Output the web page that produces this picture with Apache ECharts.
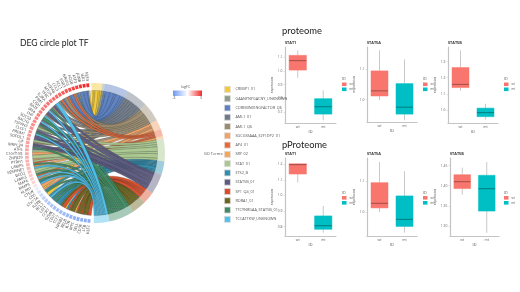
<!DOCTYPE html>
<html><head><meta charset="utf-8"><style>html,body{margin:0;padding:0;background:#fff}#c{width:520px;height:292px}</style>
<script src="https://cdn.jsdelivr.net/npm/echarts@6/dist/echarts.min.js"></script></head><body><div id="c"></div>
<script>
const termNames=['CREBP1_01','GAANYNYGACNY_UNKNOWN','COREBINDINGFACTOR_Q6','AML1_01','AML1_Q6','SGCGSSAAA_E2F1DP2_01','AP4_01','SRY_02','STAT_01','ETS2_B','STAT5B_01','SP1_Q4_01','RORA1_01','TTCYNRGAA_STAT5B_01','TCCATTKW_UNKNOWN'];
const termColors=['#f3c93a','#8d9c8c','#5b7fc0','#6f7a88','#9a8a6e','#f0a266','#e9683a','#f4a65c','#a9c78e','#2f8db0','#5d5a80','#d94d2a','#6b6520','#3f8a63','#4fc0ea'];
const termSpans=[9,2,20,18,16,8,6,2,19,11,17,10,12,21,13];
const geneNames=['KLF2','LTB','CD3E','SELL','MYC','IL7R','RELB','NFKB2','TCF7','CD27','GZMK','CCR7','LEF1','BCL2','IL2RB','STK17A','CD5','CTSW','KLRB1','MMP9','MAFK','LAMA3','BCO2','SERPINE1','LAMP5','PTRH1','ZNF829','C1orf158','ATF5','MRPL34','LIF','SOFOL1','PRDM1','CLCF1','TSPAN3','BACH2','SOCS3','TNF','IRF4','BATF','CISH','PIM1','IL2RA','TFRC','MT2A','HSPA8','CCL3','XCL1','EGR3','NR4A3','FOSB','ATF3','JUNB','IER2','KLF4'];
const logFC=[-2.4,-2.4,-2.3,-2.3,-2.2,-2.2,-2.1,-2,-2,-1.9,-1.8,-1.7,-1.6,-1.5,-1.3,-1.1,-0.8,-0.5,0.4,0.6,0.7,0.8,0.9,1,1.05,1.1,1.15,1.2,1.25,1.3,1.35,1.4,1.45,1.5,1.55,1.6,1.65,1.7,1.75,1.8,1.85,1.9,1.95,2,2.05,2.1,2.2,2.3,2.4,2.5,2.6,2.7,2.85,3,3];
const geneTerms=[[11],[12],[11,12],[12],[11,0],[12],[11,12],[9,0],[11],[9,12],[9],[9,13],[9,13],[9,14],[0],[9,13],[0,5],[5],[9,14],[13,5],[6,14],[13,8],[8],[7,14],[6,13],[5,8],[8],[5],[8,3],[13,10],[10,4],[3,8],[10],[13,14],[3,10],[8,4],[10,13],[14,3],[13],[14,4],[10],[14,3],[4,13],[10,3],[14],[3,4],[2,6],[4],[2,6],[2],[4,6],[2,1],[2],[2],[2,0]];
const stat1={wt:[0.951,1.007,1.076,1.115,1.151],mt:[0.639,0.685,0.739,0.798,0.859],ticks:[0.7,0.8,0.9,1.0,1.1],min:0.62,max:1.176};
const stat5a={wt:[0.998,1.012,1.029,1.095,1.163],mt:[0.932,0.952,0.975,1.053,1.133],ticks:[1.0,1.1],min:0.926,max:1.174};
const stat5b={wt:[1.12,1.139,1.159,1.263,1.369],mt:[0.941,0.959,0.984,1.012,1.039],ticks:[1.0,1.1,1.2,1.3],min:0.92,max:1.39};
const pstat1={wt:[1.084,1.138,1.198,1.204,1.209],mt:[0.761,0.783,0.806,0.869,0.933],ticks:[0.8,0.9,1.0,1.1,1.2],min:0.74,max:1.241};
const pstat5a={wt:[0.999,1.013,1.028,1.095,1.162],mt:[0.933,0.953,0.976,1.052,1.132],ticks:[1.0,1.1],min:0.922,max:1.175};
const pstat5b={wt:[1.3775,1.393,1.41,1.4275,1.445],mt:[1.283,1.337,1.3925,1.426,1.459],ticks:[1.3,1.35,1.4,1.45],min:1.275,max:1.469};
const idLabels=['wt','mt'];
const panels=[
 {t:'STAT1',d:stat1,x:285,w:51,top:47,h:76,lx:342,dec:1},
 {t:'STAT5A',d:stat5a,x:367,w:50,top:47,h:75,lx:423,dec:1},
 {t:'STAT5B',d:stat5b,x:448,w:50,top:47,h:76,lx:504,dec:1},
 {t:'STAT1',d:pstat1,x:285,w:51,top:158,h:78,lx:342,dec:1},
 {t:'STAT5A',d:pstat5a,x:367,w:50,top:158,h:78,lx:423,dec:1},
 {t:'STAT5B',d:pstat5b,x:450,w:49,top:158,h:78,lx:504,dec:2}
];
const blue='#6f98f2',red='#f22a2a';
const colorOf=v=>echarts.color.lerp((v+3)/6,[blue,'#ffffff',red]);
const CX=95,CY=153,R=70,RI=62.5,termStart=-3,geneStart=183.5,genePitch=3.127;
const pt=(deg,r)=>{const a=deg*Math.PI/180;return [CX+r*Math.sin(a),CY-r*Math.cos(a)];};
const termAngles=[];let acc=termStart;termSpans.forEach(s=>{termAngles.push([acc,acc+s]);acc+=s;});
const geneSpan=i=>[geneStart+i*genePitch,geneStart+(i+1)*genePitch];
const linksByTerm=termNames.map(()=>[]);
geneTerms.forEach((ts,g)=>ts.forEach(t=>linksByTerm[t].push(g)));
const share=g=>1/geneTerms[g].length;
const ribbons=termNames.map((_,t)=>{
 const list=linksByTerm[t].slice().sort((a,b)=>b-a),total=list.reduce((s,g)=>s+share(g),0),[a0,a1]=termAngles[t];
 let cur=a0;
 return list.map(g=>{
  const w=(a1-a0)*share(g)/total,ts=geneTerms[g].slice().sort((a,b)=>b-a),k=ts.indexOf(t),[g0,g1]=geneSpan(g),gw=(g1-g0)*share(g);
  const row=[g0+k*gw,g0+(k+1)*gw,cur,cur+w];cur+=w;return row;
 });
});
const renderRibbon=(params,api)=>{
 const [g0,g1,t0,t1]=[0,1,2,3].map(k=>api.value(k));
 const gm=(g0+g1)/2,tm=(t0+t1)/2,p0=pt(gm,RI),p1=pt(gm,RI*0.42),p2=pt(tm,RI*0.42),p3=pt(tm,RI);
 const gw=(g1-g0)*Math.PI/180*RI/2,tw=(t1-t0)*Math.PI/180*RI/2,left=[],right=[],N=28;
 for(let i=0;i<=N;i++){
  const u=i/N,v=1-u;
  const c=[0,1].map(k=>v*v*v*p0[k]+3*v*v*u*p1[k]+3*v*u*u*p2[k]+u*u*u*p3[k]);
  const d=[0,1].map(k=>3*v*v*(p1[k]-p0[k])+6*v*u*(p2[k]-p1[k])+3*u*u*(p3[k]-p2[k]));
  const len=Math.hypot(d[0],d[1])||1,nx=-d[1]/len,ny=d[0]/len,w=gw+(tw-gw)*u;
  left.push([c[0]+nx*w,c[1]+ny*w]);right.unshift([c[0]-nx*w,c[1]-ny*w]);
 }
 return {type:'polygon',shape:{points:left.concat(right)},style:{fill:api.visual('color'),stroke:'#26302c',lineWidth:0.25,opacity:0.97}};
};
const grid=[],xAxis=[],yAxis=[],legend=[],series=[],title=[];
const tx=(text,left,top,fs,extra)=>title.push({text,left,top,padding:0,textStyle:Object.assign({fontSize:fs,fontWeight:'normal',color:'#333',fontFamily:'Open Sans'},extra||{})});
tx('DEG circle plot TF',20,39,8.6,{fontFamily:'Lato',color:'#222'});
tx('proteome',282,26,9.4,{fontFamily:'Lato',color:'#222'});
tx('pProteome',282,140,9.3,{fontFamily:'Lato',color:'#222'});
tx('logFC',181,85,3.6,{color:'#555'});
tx('GO Terms:',204,151.5,3.9,{color:'#555'});
tx('-3',172.5,97,3.4,{color:'#555'});
tx('3',200,97,3.4,{color:'#555'});
const drawOrder=[0,1,2,3,4,5,6,7,8,9,11,12,13,10,14];
drawOrder.forEach(t=>series.push({type:'custom',name:termNames[t],coordinateSystem:'none',itemStyle:{color:termColors[t]},renderItem:renderRibbon,data:ribbons[t],silent:true}));
series.push({type:'custom',coordinateSystem:'none',silent:true,data:termAngles,renderItem:(p,api)=>{
 const a=api.value(0),b=api.value(1);
 return {type:'sector',shape:{cx:CX,cy:CY,r0:RI,r:R,startAngle:(a-90)*Math.PI/180,endAngle:(b-90)*Math.PI/180,clockwise:true},style:{fill:termColors[p.dataIndex],opacity:0.45}};
}});
series.push({type:'custom',coordinateSystem:'none',silent:true,data:logFC.map((v,i)=>[i,v]),renderItem:(p,api)=>{
 const i=api.value(0),[a,b]=geneSpan(i),mid=(a+b)/2,tp=pt(mid,72.5);
 return {type:'group',children:[
  {type:'sector',shape:{cx:CX,cy:CY,r0:66.3,r:70,startAngle:(a+0.35-90)*Math.PI/180,endAngle:(b-0.35-90)*Math.PI/180,clockwise:true},style:{fill:colorOf(api.value(1))}},
  {type:'text',x:tp[0],y:tp[1],rotation:(270-mid)*Math.PI/180,style:{text:geneNames[i],fontSize:3.9,fill:'#444',align:'right',verticalAlign:'middle',fontFamily:'Open Sans'}}
 ]};
}});
legend.push({left:224,top:86,orient:'vertical',padding:0,itemWidth:6,itemHeight:6,itemGap:2.48,icon:'rect',selectedMode:false,
 textStyle:{fontSize:3.8,color:'#555',fontFamily:'Open Sans'},
 data:termNames.map((n,i)=>({name:n,itemStyle:{color:termColors[i],borderColor:'#ddd',borderWidth:0.8}}))});
const renderBox=(params,api)=>{
 const c=api.value(0),bw=api.size([1,0])[0]*0.68,p=k=>api.coord([c,api.value(k)]);
 const x=p(1)[0],col=api.visual('color'),dark=echarts.color.lerp(0.35,[col,'#000000']);
 return {type:'group',children:[
  {type:'line',shape:{x1:x,y1:p(5)[1],x2:x,y2:p(4)[1]},style:{stroke:'#c9c9c9',lineWidth:1}},
  {type:'line',shape:{x1:x,y1:p(2)[1],x2:x,y2:p(1)[1]},style:{stroke:'#c9c9c9',lineWidth:1}},
  {type:'rect',shape:{x:x-bw/2,y:p(4)[1],width:bw,height:p(2)[1]-p(4)[1]},style:{fill:col,stroke:col,lineWidth:0.5}},
  {type:'line',shape:{x1:x-bw/2,y1:p(3)[1],x2:x+bw/2,y2:p(3)[1]},style:{stroke:dark,lineWidth:1}}
 ]};
};
panels.forEach((p,i)=>{
 grid.push({left:p.x,top:p.top,width:p.w,height:p.h,containLabel:false});
 const axisStyle={lineStyle:{color:'#c4c4c4',width:1.2}};
 xAxis.push({type:'category',gridIndex:i,data:idLabels,name:'ID',nameLocation:'middle',nameGap:7,nameTextStyle:{fontSize:3.8,color:'#555'},
  axisLine:axisStyle,axisTick:{length:1.5,lineStyle:{color:'#c4c4c4',width:.5}},axisLabel:{fontSize:3.4,color:'#666',margin:2.5,fontFamily:'Open Sans'}});
 yAxis.push({type:'value',gridIndex:i,min:p.d.min,max:p.d.max,name:'expression',nameLocation:'middle',nameGap:7,nameRotate:90,nameTextStyle:{fontSize:3.4,color:'#555'},
  splitLine:{show:false},axisLine:Object.assign({show:true},axisStyle),axisTick:{show:true,length:1.5,customValues:p.d.ticks,lineStyle:{color:'#c4c4c4',width:.5}},
  axisLabel:{fontSize:3.4,color:'#666',margin:2.5,customValues:p.d.ticks,fontFamily:'Open Sans',formatter:v=>v.toFixed(p.dec)}});
 series.push({type:'custom',name:idLabels[0],xAxisIndex:i,yAxisIndex:i,itemStyle:{color:'#F8766D'},renderItem:renderBox,encode:{x:0,y:[1,2,3,4,5]},data:[[0].concat(p.d.wt)]});
 series.push({type:'custom',name:idLabels[1],xAxisIndex:i,yAxisIndex:i,itemStyle:{color:'#00BFC4'},renderItem:renderBox,encode:{x:0,y:[1,2,3,4,5]},data:[[1].concat(p.d.mt)]});
 tx(p.t,p.x,p.top-6.5,3.8,{fontWeight:'bold',color:'#333'});
 const ly=i<3?82.5:196;
 tx('ID',p.lx,ly-5.5,3.8,{color:'#555'});
 legend.push({left:p.lx,top:ly,orient:'vertical',padding:0,itemWidth:4.5,itemHeight:3.6,itemGap:1.4,icon:'rect',selectedMode:false,
  textStyle:{fontSize:3.2,color:'#666',padding:[0,0,0,-2]},data:idLabels});
});
const chart=echarts.init(document.getElementById('c'),null,{renderer:'canvas'});
chart.setOption({animation:false,backgroundColor:'#fff',title,grid,xAxis,yAxis,legend,series,
 graphic:[{type:'rect',left:173,top:90.5,shape:{width:29,height:5.5},style:{fill:new echarts.graphic.LinearGradient(0,0,1,0,[{offset:0,color:blue},{offset:.5,color:'#fff'},{offset:1,color:red}])}}]});
</script></body></html>
